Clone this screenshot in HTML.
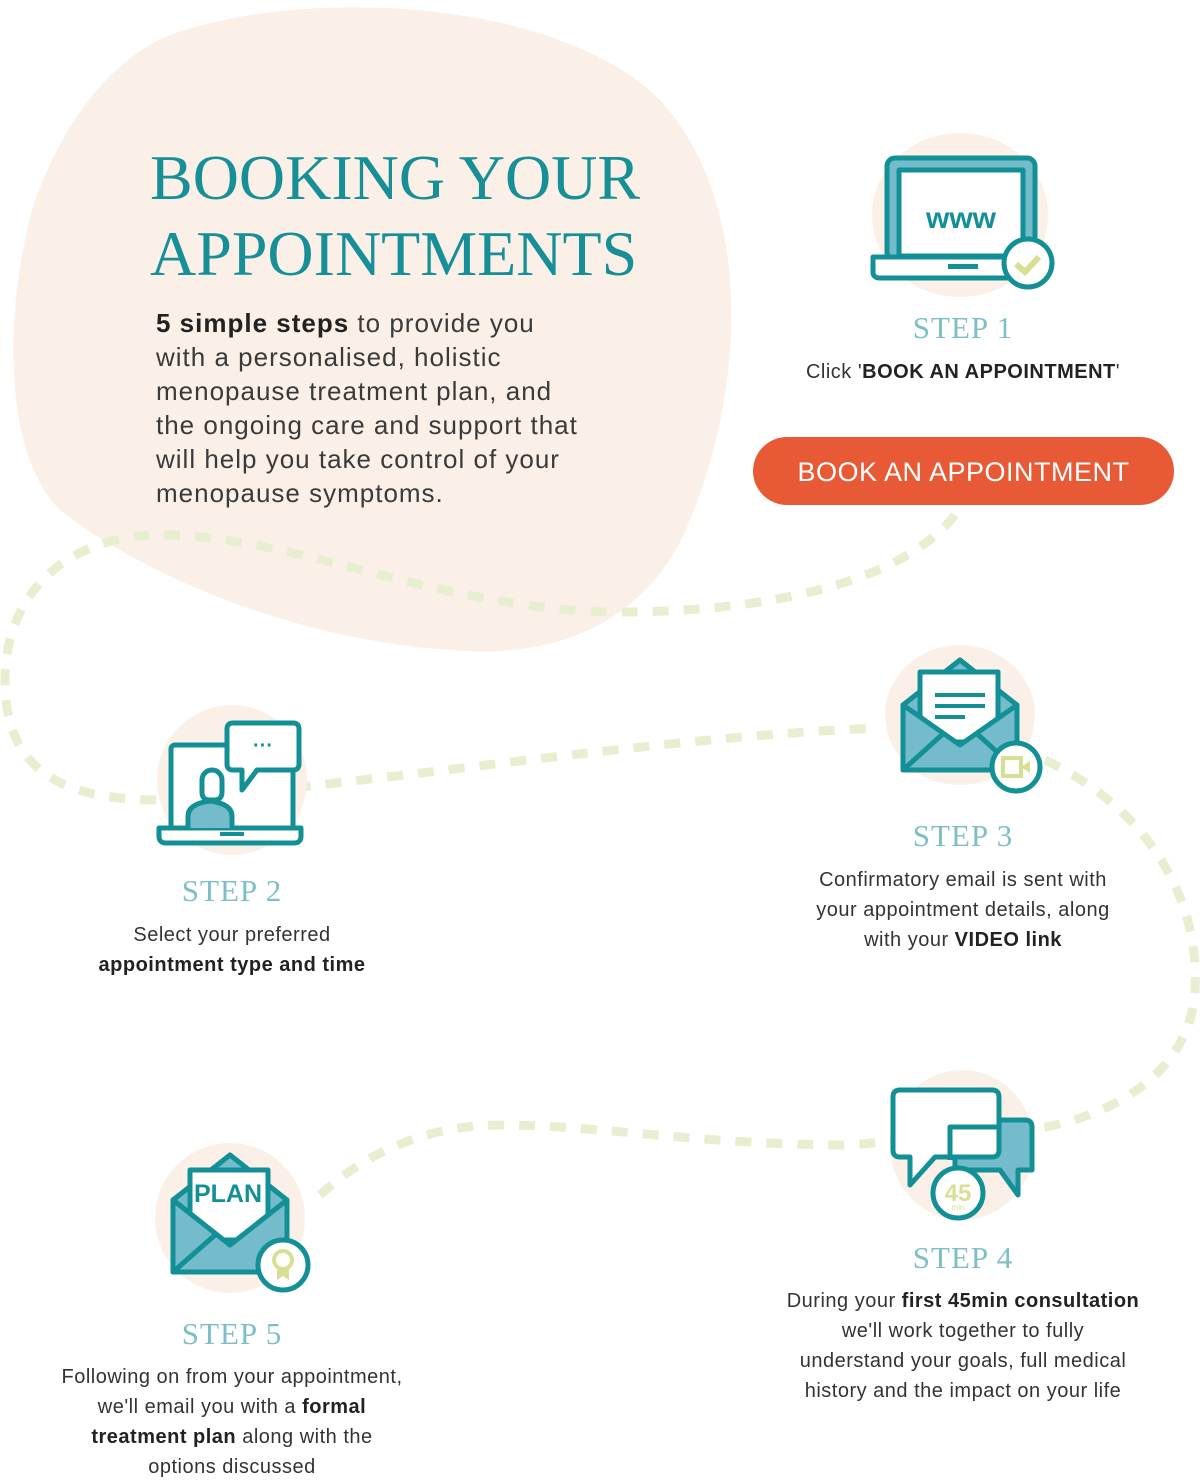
<!DOCTYPE html>
<html><head><meta charset="utf-8"><style>
body{margin:0;width:1203px;height:1483px;background:#fff;position:relative;overflow:hidden;font-family:"Liberation Sans",sans-serif;color:#333}
.a{position:absolute}
h1{position:absolute;left:150px;top:140px;margin:0;font-family:"Liberation Serif",serif;font-weight:normal;color:#178f96;font-size:64px;line-height:76px;letter-spacing:0;white-space:nowrap}
.intro{left:156px;top:306px;font-size:26px;line-height:34px;color:#3a3a3a;white-space:nowrap;letter-spacing:1px}
.step{font-family:"Liberation Serif",serif;color:#7dbfc8;font-size:31px;text-align:center;letter-spacing:1px}
.t{font-size:20px;line-height:30px;text-align:center;color:#333;letter-spacing:.5px;white-space:nowrap}
b{color:#222}
.btn{left:753px;top:437px;width:421px;height:68px;background:#e85a36;border-radius:34px;color:#fff;font-size:27px;text-align:center;line-height:70px;letter-spacing:.5px}
</style></head><body>
<svg class="a" style="left:0;top:0" width="1203" height="1483">
<path d="M170,35 C310,-15 560,0 660,100 C760,210 740,400 690,520 C650,620 560,660 450,650 C300,640 150,580 60,510 C0,450 5,300 35,200 C65,120 110,60 170,35Z" fill="#faf0e8"/>
<path d="M955,515 C900,585 760,612 620,612 C450,612 300,538 170,535 C60,532 5,600 5,680 C5,770 60,800 160,800 L300,787 C500,765 700,735 880,728" fill="none" stroke="#e8efd1" stroke-width="9" stroke-dasharray="16 15"/>
<path d="M1045,760 C1150,810 1200,900 1195,990 C1190,1080 1100,1118 1040,1128 L850,1145 C700,1145 600,1125 500,1125 C420,1125 360,1158 320,1195" fill="none" stroke="#e8efd1" stroke-width="9" stroke-dasharray="16 15"/>
<ellipse cx="960" cy="215" rx="88" ry="82" fill="#faf0e8"/>
<ellipse cx="232" cy="780" rx="75" ry="75" fill="#faf0e8"/>
<ellipse cx="960" cy="715" rx="75" ry="70" fill="#faf0e8"/>
<ellipse cx="962" cy="1145" rx="72" ry="75" fill="#faf0e8"/>
<ellipse cx="230" cy="1218" rx="75" ry="75" fill="#faf0e8"/>
<g stroke="#138f96" stroke-width="5" stroke-linejoin="round">
<rect x="887" y="158" width="148" height="102" rx="8" fill="#74bccb"/>
<rect x="899" y="170" width="124" height="86" fill="#fff"/>
<path d="M873,257 H1047 V272 Q1047,278 1040,278 H880 Q873,278 873,272Z" fill="#fff"/>
<circle cx="1028" cy="263" r="24" fill="#fff"/>
</g>
<rect x="948" y="264" width="30" height="5" fill="#138f96"/>
<path d="M1016,264 l9,8 l14,-15" fill="none" stroke="#d8df95" stroke-width="6"/>
<text x="961" y="228" font-family="Liberation Sans" font-weight="bold" font-size="30" fill="#138f96" text-anchor="middle">www</text>
<g stroke="#138f96" stroke-width="5" fill="none" stroke-linejoin="round">
<rect x="171" y="745" width="122" height="85" rx="4" fill="#fff"/>
<path d="M159,828 H301 V836 Q301,843 294,843 H166 Q159,843 159,836Z" fill="#fff"/>
<path d="M210,800 q-8,0-8,-8 v-12 a10,10 0 0 1 20,0 v12 q0,8-8,8z" fill="#fff"/>
<path d="M188,828 v-12 q0,-12 22,-15 q22,3 22,15 v12" fill="#74bccb"/>
<path d="M233,723 H293 Q299,723 299,729 V764 Q299,770 293,770 H257 L242,790 V770 H233 Q227,770 227,764 V729 Q227,723 233,723Z" fill="#fff"/>
</g>
<text x="263" y="752" font-size="20" font-weight="bold" fill="#138f96" text-anchor="middle">···</text>
<rect x="220" y="832" width="24" height="4" fill="#138f96"/>
<g stroke="#138f96" stroke-width="5" stroke-linejoin="round">
<path d="M903,705 L960,660 L1017,705 V770 H903Z" fill="#74bccb"/>
<rect x="920" y="672" width="78" height="70" fill="#fff"/>
<path d="M903,705 L960,745 L1017,705 V770 H903Z" fill="#74bccb"/>
<path d="M903,770 L945,732 M1017,770 L975,732" fill="none"/>
<circle cx="1016" cy="767" r="24" fill="#fff"/>
</g>
<path d="M935,695 H985 M935,706 H985 M935,717 H965" stroke="#138f96" stroke-width="4"/>
<rect x="1003" y="758" width="18" height="18" fill="none" stroke="#d8df95" stroke-width="4"/>
<path d="M1021,767 l9,-6 v12z" fill="#d8df95"/>
<g stroke="#138f96" stroke-width="5" stroke-linejoin="round">
<path d="M955,1120 H1025 Q1032,1120 1032,1127 V1170 H1018 V1195 L1000,1170 H955Z" fill="#74bccb"/>
<path d="M900,1090 H992 Q999,1090 999,1097 V1150 Q999,1157 992,1157 H935 L910,1185 V1157 H900 Q893,1157 893,1150 V1097 Q893,1090 900,1090Z" fill="#fff"/>
<path d="M950,1160 V1127 H999" fill="none"/>
<circle cx="958" cy="1193" r="25" fill="#fff"/>
</g>
<text x="958" y="1201" font-size="24" font-weight="bold" fill="#d8df95" text-anchor="middle">45</text>
<text x="958" y="1210" font-size="8" fill="#d8df95" text-anchor="middle">min</text>
<g stroke="#138f96" stroke-width="5" stroke-linejoin="round">
<path d="M173,1200 L230,1155 L287,1200 V1272 H173Z" fill="#74bccb"/>
<rect x="190" y="1170" width="78" height="70" fill="#fff"/>
<path d="M173,1200 L230,1245 L287,1200 V1272 H173Z" fill="#74bccb"/>
<path d="M173,1272 L215,1235" fill="none"/>
<circle cx="283" cy="1265" r="25" fill="#fff"/>
</g>
<circle cx="283" cy="1260" r="9" fill="none" stroke="#d8df95" stroke-width="4"/>
<path d="M277,1268 v12 l6,-4 l6,4 v-12" fill="#d8df95"/>
<text x="228" y="1202" font-size="25" font-weight="bold" fill="#138f96" text-anchor="middle">PLAN</text>
</svg>
<h1>BOOKING YOUR<br>APPOINTMENTS</h1>
<div class="a intro"><b>5 simple steps</b> to provide you<br>with a personalised, holistic<br>menopause treatment plan, and<br>the ongoing care and support that<br>will help you take control of your<br>menopause symptoms.</div>
<div class="a step" style="left:863px;top:310px;width:200px">STEP 1</div>
<div class="a t" style="left:763px;top:357px;width:400px">Click '<b>BOOK AN APPOINTMENT</b>'</div>
<div class="a btn">BOOK AN APPOINTMENT</div>
<div class="a step" style="left:132px;top:873px;width:200px">STEP 2</div>
<div class="a t" style="left:32px;top:920px;width:400px">Select your preferred<br><b>appointment type and time</b></div>
<div class="a step" style="left:863px;top:818px;width:200px">STEP 3</div>
<div class="a t" style="left:763px;top:865px;width:400px">Confirmatory email is sent with<br>your appointment details, along<br>with your <b>VIDEO link</b></div>
<div class="a step" style="left:863px;top:1240px;width:200px">STEP 4</div>
<div class="a t" style="left:733px;top:1286px;width:460px">During your <b>first 45min consultation</b><br>we'll work together to fully<br>understand your goals, full medical<br>history and the impact on your life</div>
<div class="a step" style="left:132px;top:1316px;width:200px">STEP 5</div>
<div class="a t" style="left:12px;top:1362px;width:440px">Following on from your appointment,<br>we'll email you with a <b>formal<br>treatment plan</b> along with the<br>options discussed</div>
</body></html>
